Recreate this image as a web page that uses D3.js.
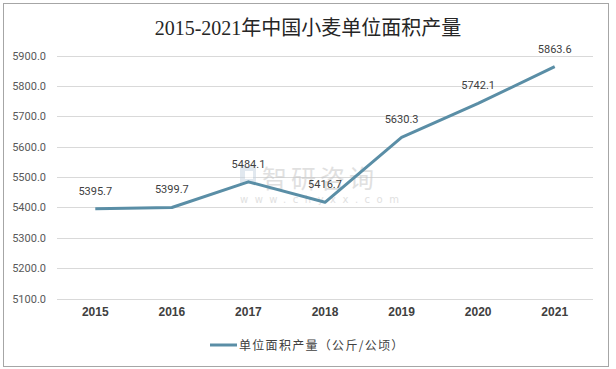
<!DOCTYPE html>
<html><head><meta charset="utf-8">
<script src="https://cdn.jsdelivr.net/npm/d3@7/dist/d3.min.js"></script>
<style>body{margin:0;background:#fff}</style>
</head><body><div id="c"></div>
<script>
const years = ["2015","2016","2017","2018","2019","2020","2021"];
const values = [5395.7, 5399.7, 5484.1, 5416.7, 5630.3, 5742.1, 5863.6];
const yTicks = [5100, 5200, 5300, 5400, 5500, 5600, 5700, 5800, 5900];
const title = "2015-2021年中国小麦单位面积产量";
const seriesName = "单位面积产量（公斤/公顷）";

(function(){
const W = 616, H = 369;
const svg = d3.select("#c").append("svg").attr("width", W).attr("height", H);
svg.append("rect").attr("x", 3.5).attr("y", 3.5).attr("width", 605).attr("height", 363)
  .attr("fill", "#fff").attr("stroke", "#a6a6a6").attr("stroke-width", 1);

const pL = 57, pR = 593, pT = 55.5, pB = 298.5;
const x = d3.scaleBand().domain(years).range([pL, pR]);
const y = d3.scaleLinear().domain([5100, 5900]).range([pB, pT]);

svg.append("text").attr("x", 308).attr("y", 35).attr("text-anchor", "middle")
  .attr("font-family", "'Liberation Serif','Noto Sans CJK SC',serif").attr("font-size", 20)
  .attr("fill", "#262626").text(title);

// gridlines
svg.append("g").selectAll("line").data(yTicks).join("line")
  .attr("x1", pL).attr("x2", pR)
  .attr("y1", d => Math.round(y(d)) + 0.5).attr("y2", d => Math.round(y(d)) + 0.5)
  .attr("stroke", "#d9d9d9").attr("stroke-width", 1);

// y axis labels
const yAxis = d3.axisLeft(y).tickValues(yTicks).tickFormat(d3.format(".1f")).tickSize(0).tickPadding(0);
const gy = svg.append("g").attr("transform", `translate(46,0)`).call(yAxis);
gy.select(".domain").remove();
gy.selectAll("text").attr("font-family", "Roboto, 'Liberation Sans', sans-serif").attr("font-size", 11)
  .attr("fill", "#595959");

// x axis labels
const xAxis = d3.axisBottom(x).tickSize(0).tickPadding(0);
const gx = svg.append("g").attr("transform", `translate(0,${pB + 9})`).call(xAxis);
gx.select(".domain").remove();
gx.selectAll("text").attr("font-family", "'Liberation Sans', Arial, sans-serif").attr("font-size", 12)
  .attr("font-weight", "bold").attr("fill", "#404040");

// watermark
const wm = svg.append("g").attr("opacity", 0.55);
wm.append("rect").attr("x", 240).attr("y", 166).attr("width", 16).attr("height", 18).attr("fill", "#c9d6e3");
wm.append("rect").attr("x", 245).attr("y", 171).attr("width", 8).attr("height", 8).attr("fill", "#fff");
wm.append("text").attr("x", 262).attr("y", 188).attr("font-family", "'Noto Sans CJK SC',sans-serif")
  .attr("font-size", 25).attr("fill", "#c8c8c8").attr("letter-spacing", 4).text("智研咨询");
wm.append("text").attr("x", 240).attr("y", 203).attr("font-family", "'DejaVu Sans',sans-serif")
  .attr("font-size", 10).attr("fill", "#c8c8c8").attr("letter-spacing", 6.5).text("www.chyxx.com");

// line
const line = d3.line().x((d, i) => x(years[i]) + x.bandwidth() / 2).y(d => y(d));
svg.append("path").datum(values).attr("d", line).attr("fill", "none")
  .attr("stroke", "#5a8ea6").attr("stroke-width", 3).attr("stroke-linejoin", "round");

// data labels
svg.append("g").selectAll("text").data(values).join("text")
  .attr("x", (d, i) => x(years[i]) + x.bandwidth() / 2)
  .attr("y", d => y(d) - 14)
  .attr("text-anchor", "middle")
  .attr("font-family", "Roboto, 'Liberation Sans', sans-serif").attr("font-size", 11)
  .attr("fill", "#404040").text(d => d.toFixed(1));

// legend
svg.append("line").attr("x1", 210).attr("x2", 237).attr("y1", 345).attr("y2", 345)
  .attr("stroke", "#5a8ea6").attr("stroke-width", 3);
svg.append("text").attr("x", 239).attr("y", 349.5)
  .attr("font-family", "'Noto Sans CJK SC',sans-serif").attr("font-size", 12)
  .attr("fill", "#404040").attr("letter-spacing", 1.3).text(seriesName);
})();
</script></body></html>
